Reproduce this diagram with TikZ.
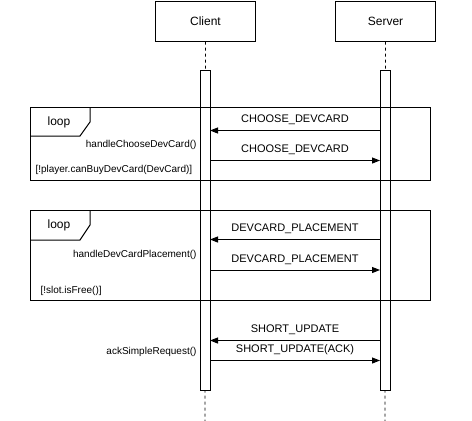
\documentclass[tikz,border=0pt]{standalone}
\usepackage{fontspec}
\setmainfont{Liberation Sans}
\usetikzlibrary{arrows.meta}
\begin{document}
\begin{tikzpicture}[x=1pt,y=-1pt,line width=1pt,
  actor/.style={draw,minimum width=100pt,minimum height=40pt,inner sep=0pt,font=\fontsize{12}{14}\selectfont},
  actbar/.style={draw,fill=white,minimum width=10pt,inner sep=0pt},
  lifeline/.style={dashed,dash pattern=on 3pt off 3pt,line width=0.8pt},
  frame/.style={draw,line width=1pt},
  msg/.style={-{Triangle[length=8pt,width=6pt]},line width=1pt},
  msglabel/.style={font=\fontsize{11}{13}\selectfont,inner sep=0pt},
  looplabel/.style={font=\fontsize{12}{14}\selectfont,inner sep=0pt},
  note/.style={font=\fontsize{10}{12}\selectfont,inner sep=0pt},
]
\useasboundingbox (0,0) rectangle (472,421);
% actors
\node[actor,anchor=north west] (client) at (155,0.5) {Client};
\node[actor,anchor=north west] (server) at (335,0.5) {Server};
% lifeline ends
\coordinate (cbot) at (205,421);
\coordinate (sbot) at (385,421);
\draw[lifeline] (client.south) -- (cbot);
\draw[lifeline] (server.south) -- (sbot);
% activation bars
\node[actbar,minimum height=320pt,anchor=north] (cbar) at (205,70) {};
\node[actbar,minimum height=320pt,anchor=north] (sbar) at (385,70) {};
% loop frames
\node[frame,minimum width=400pt,minimum height=73pt,anchor=north west,inner sep=0pt] (loop1) at (30,107) {};
\node[frame,minimum width=400pt,minimum height=90pt,anchor=north west,inner sep=0pt] (loop2) at (30,210) {};
\draw (loop1.north west) ++(60,0) coordinate (t1a) -- ++(0,15) -- ++(-10,14) -- (loop1.north west |- 0,136);
\draw (loop2.north west) ++(60,0) coordinate (t2a) -- ++(0,15) -- ++(-10,15) -- (loop2.north west |- 0,240);
\node[looplabel] (l1) at (59,122) {loop};
\node[looplabel] (l2) at (59,225.5) {loop};
% messages
\coordinate (s1) at (380,130.5); \coordinate (c1) at (210,130.5);
\draw[msg] (s1) -- (c1) node[msglabel,midway,above=5pt] {CHOOSE\_DEVCARD};
\coordinate (c2) at (210,160.5); \coordinate (s2) at (380,160.5);
\draw[msg] (c2) -- (s2) node[msglabel,midway,above=5pt] {CHOOSE\_DEVCARD};
\coordinate (s3) at (380,239.5); \coordinate (c3) at (210,239.5);
\draw[msg] (s3) -- (c3) node[msglabel,midway,above=5pt] {DEVCARD\_PLACEMENT};
\coordinate (c4) at (210,270); \coordinate (s4) at (380,270);
\draw[msg] (c4) -- (s4) node[msglabel,midway,above=5pt] {DEVCARD\_PLACEMENT};
\coordinate (s5) at (380,340.5); \coordinate (c5) at (210,340.5);
\draw[msg] (s5) -- (c5) node[msglabel,midway,above=5pt] {SHORT\_UPDATE};
\coordinate (c6) at (210,360.5); \coordinate (s6) at (380,360.5);
\draw[msg] (c6) -- (s6) node[msglabel,midway,above=5pt] {SHORT\_UPDATE(ACK)};
% notes
\node[note,anchor=east] (n1) at (197,145) {handleChooseDevCard()};
\node[note,anchor=west] (g1) at (35,170) {[!player.canBuyDevCard(DevCard)]};
\node[note,anchor=east] (n2) at (197,255) {handleDevCardPlacement()};
\node[note,anchor=west] (g2) at (40,291) {[!slot.isFree()]};
\node[note,anchor=east] (n3) at (197,351.5) {ackSimpleRequest()};
\end{tikzpicture}
\end{document}
